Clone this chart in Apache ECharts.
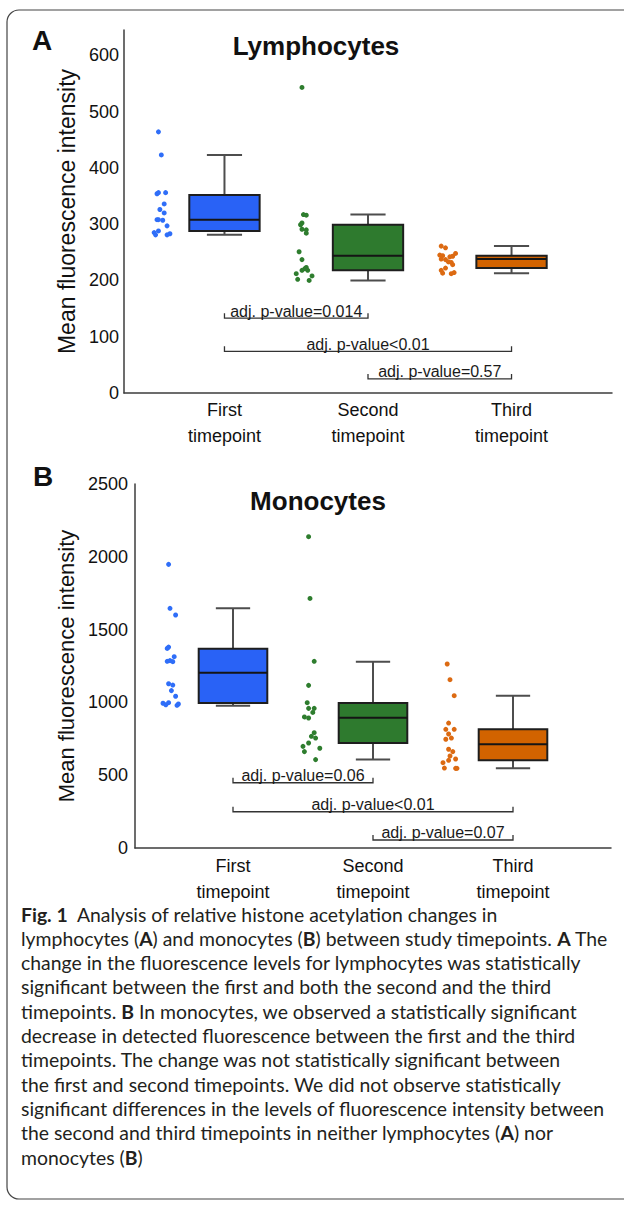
<!DOCTYPE html>
<html>
<head>
<meta charset="utf-8">
<title>Histone acetylation</title>
<script src="https://cdn.jsdelivr.net/npm/echarts@6/dist/echarts.min.js"></script>
<style>
  html, body { margin: 0; padding: 0; background: #fff; }
  #chart { width: 624px; height: 1207px; }
</style>
</head>
<body>
<div id="chart"></div>
<script>
const categories = ['First\ntimepoint', 'Second\ntimepoint', 'Third\ntimepoint'];

// box stats per timepoint: [lower whisker, q1, median, q3, upper whisker]
const lymphBoxes = [[281, 288, 308, 352, 423], [200, 218, 244, 299, 317], [213, 222, 238, 244, 261]];
const monoBoxes = [[977, 996, 1204, 1369, 1646], [607, 721, 895, 996, 1280], [547, 602, 712, 815, 1046]];

// individual points (values) and their horizontal spread
const lymphFirst = [464, 423, 354, 356, 356, 336, 326, 320, 308, 308, 307, 297, 288, 285, 281, 281, 283];
const lymphFirstJitter = [-0.46, -0.44, -0.47, -0.46, -0.41, -0.42, -0.45, -0.42, -0.47, -0.46, -0.43, -0.40, -0.46, -0.49, -0.48, -0.40, -0.38];
const lymphSecond = [543, 317, 316, 302, 299, 291, 290, 284, 251, 237, 223, 221, 218, 218, 212, 208, 202, 200];
const lymphSecondJitter = [-0.46, -0.45, -0.43, -0.46, -0.47, -0.46, -0.43, -0.43, -0.48, -0.46, -0.43, -0.44, -0.46, -0.42, -0.50, -0.39, -0.49, -0.41];
const lymphThird = [261, 258, 248, 245, 244, 238, 237, 242, 243, 233, 232, 228, 222, 218, 213, 212, 214];
const lymphThirdJitter = [-0.49, -0.46, -0.39, -0.50, -0.48, -0.49, -0.46, -0.43, -0.41, -0.44, -0.42, -0.41, -0.46, -0.49, -0.48, -0.42, -0.40];

const monoFirst = [1948, 1646, 1600, 1371, 1380, 1314, 1282, 1287, 1280, 1128, 1119, 1081, 1042, 994, 984, 998, 980, 989];
const monoFirstJitter = [-0.46, -0.45, -0.41, -0.47, -0.46, -0.42, -0.47, -0.45, -0.43, -0.46, -0.43, -0.44, -0.41, -0.50, -0.48, -0.46, -0.40, -0.39];
const monoSecond = [2138, 1714, 1282, 1117, 998, 959, 959, 931, 900, 893, 792, 767, 755, 721, 698, 685, 662, 607];
const monoSecondJitter = [-0.46, -0.45, -0.42, -0.46, -0.47, -0.46, -0.42, -0.43, -0.49, -0.46, -0.42, -0.44, -0.41, -0.46, -0.50, -0.38, -0.49, -0.41];
const monoThird = [1264, 1156, 1046, 858, 815, 815, 783, 755, 747, 678, 662, 632, 611, 602, 586, 549, 547, 547];
const monoThirdJitter = [-0.47, -0.45, -0.42, -0.46, -0.48, -0.42, -0.46, -0.44, -0.48, -0.46, -0.43, -0.45, -0.41, -0.46, -0.50, -0.49, -0.41, -0.40];

// significance brackets: which timepoints, at what height, with what text
const bracketPairs = [[1, 2], [1, 3], [2, 3]];
const lymphBracketLevels = [133, 74, 25];
const lymphPvalues = ['adj. p-value=0.014', 'adj. p-value<0.01', 'adj. p-value=0.57'];
const monoBracketLevels = [448, 249, 55];
const monoPvalues = ['adj. p-value=0.06', 'adj. p-value<0.01', 'adj. p-value=0.07'];

const captionLines = [
  '{b|Fig. 1}  Analysis of relative histone acetylation changes in',
  'lymphocytes ({b|A}) and monocytes ({b|B}) between study timepoints. {b|A} The',
  'change in the fluorescence levels for lymphocytes was statistically',
  'significant between the first and both the second and the third',
  'timepoints. {b|B} In monocytes, we observed a statistically significant',
  'decrease in detected fluorescence between the first and the third',
  'timepoints. The change was not statistically significant between',
  'the first and second timepoints. We did not observe statistically',
  'significant differences in the levels of fluorescence intensity between',
  'the second and third timepoints in neither lymphocytes ({b|A}) nor',
  'monocytes ({b|B})'
];

const boxColors = ['#2962f6', '#2e7a2e', '#d26300'];
const dotColors = ['#2f6ef8', '#2e7d2e', '#dc6a12'];
const FONT = "'Liberation Sans', Arial, sans-serif";
const CAPTION_FONT = 'Lato';

// fit caption size to the width of the widest plain line
const ctx = document.createElement('canvas').getContext('2d');
ctx.font = '100px ' + CAPTION_FONT;
const captionSize = Math.round(584 / ctx.measureText(captionLines[8]).width * 1000) / 10;

const axisColor = '#3c3c3c';

function xAxisFor(gridIndex, margin) {
  return {
    type: 'value', gridIndex: gridIndex, min: 0.3, max: 3.7,
    splitLine: { show: false }, axisTick: { show: false },
    axisLine: { show: true, onZero: false, lineStyle: { color: axisColor, width: 1.5 } },
    axisLabel: {
      customValues: [1, 2, 3],
      formatter: v => categories[Math.round(v) - 1],
      fontSize: 18, lineHeight: 26, color: '#111', fontFamily: FONT, margin: margin
    }
  };
}

function yAxisFor(gridIndex, max, interval, margin, nameSize, nameGap) {
  return {
    type: 'value', gridIndex: gridIndex, min: 0, max: max, interval: interval,
    splitLine: { show: false }, axisTick: { show: false },
    axisLine: { show: true, onZero: false, lineStyle: { color: axisColor, width: 1.5 } },
    axisLabel: {
      fontSize: 18, color: '#111', fontFamily: FONT, margin: margin,
      formatter: v => (v % interval === 0 ? String(v) : '')
    },
    name: 'Mean fluorescence intensity', nameLocation: 'middle', nameRotate: 90, nameGap: nameGap,
    nameTextStyle: { fontSize: nameSize, color: '#111', fontFamily: FONT }
  };
}

function boxSeries(axisIndex, stats) {
  return {
    type: 'custom', xAxisIndex: axisIndex, yAxisIndex: axisIndex, silent: true,
    data: stats.map((s, i) => [i + 1].concat(s)),
    encode: { x: 0, y: [1, 2, 3, 4, 5] },
    renderItem: function (params, api) {
      const x = api.value(0);
      const half = api.size([0.49, 0])[0] / 2;
      const cap = api.size([0.245, 0])[0] / 2;
      const lo = api.coord([x, api.value(1)]);
      const q1 = api.coord([x, api.value(2)]);
      const md = api.coord([x, api.value(3)]);
      const q3 = api.coord([x, api.value(4)]);
      const hi = api.coord([x, api.value(5)]);
      const cx = lo[0];
      const whisker = { stroke: '#4d4d4d', lineWidth: 2 };
      return {
        type: 'group',
        children: [
          { type: 'line', shape: { x1: cx, y1: hi[1], x2: cx, y2: q3[1] }, style: whisker },
          { type: 'line', shape: { x1: cx - cap, y1: hi[1], x2: cx + cap, y2: hi[1] }, style: whisker },
          { type: 'line', shape: { x1: cx, y1: q1[1], x2: cx, y2: lo[1] }, style: whisker },
          { type: 'line', shape: { x1: cx - cap, y1: lo[1], x2: cx + cap, y2: lo[1] }, style: whisker },
          { type: 'rect', shape: { x: cx - half, y: q3[1], width: half * 2, height: q1[1] - q3[1] },
            style: { fill: boxColors[params.dataIndex], stroke: '#1e1e1e', lineWidth: 2 } },
          { type: 'line', shape: { x1: cx - half, y1: md[1], x2: cx + half, y2: md[1] },
            style: { stroke: '#151515', lineWidth: 2 } }
        ]
      };
    }
  };
}

function dotSeries(axisIndex, pos, values, jitter) {
  return {
    type: 'scatter', xAxisIndex: axisIndex, yAxisIndex: axisIndex, silent: true,
    symbolSize: 5, itemStyle: { color: dotColors[pos - 1], opacity: 1 },
    data: values.map((v, i) => [pos + jitter[i], v])
  };
}

function bracketSeries(axisIndex, levels, labels) {
  return {
    type: 'custom', xAxisIndex: axisIndex, yAxisIndex: axisIndex, silent: true,
    data: bracketPairs.map((p, i) => [p[0], p[1], levels[i]]),
    encode: { x: [0, 1], y: 2 },
    renderItem: function (params, api) {
      const a = api.coord([api.value(0), api.value(2)]);
      const b = api.coord([api.value(1), api.value(2)]);
      const tick = 5;
      return {
        type: 'group',
        children: [
          { type: 'polyline',
            shape: { points: [[a[0], a[1] - tick], [a[0], a[1]], [b[0], b[1]], [b[0], b[1] - tick]] },
            style: { stroke: '#333', lineWidth: 1.3, fill: null } },
          { type: 'text',
            style: { text: labels[params.dataIndex], x: (a[0] + b[0]) / 2, y: a[1] - 7,
              align: 'center', verticalAlign: 'middle', fontSize: 16, fontFamily: FONT, fill: '#1a1a1a' } }
        ]
      };
    }
  };
}

const graphics = [
  { type: 'rect', shape: { x: 7, y: 10, width: 660, height: 1189, r: 12 },
    style: { fill: 'none', stroke: '#444', lineWidth: 1.2 } },
  { type: 'text', style: { text: 'A', x: 32, y: 40, verticalAlign: 'middle', fontSize: 28, fontWeight: 'bold', fontFamily: FONT, fill: '#111' } },
  { type: 'text', style: { text: 'B', x: 33, y: 476, verticalAlign: 'middle', fontSize: 28, fontWeight: 'bold', fontFamily: FONT, fill: '#111' } },
  { type: 'text', style: { text: 'Lymphocytes', x: 316, y: 46, align: 'center', verticalAlign: 'middle', fontSize: 26, fontWeight: 'bold', fontFamily: FONT, fill: '#111' } },
  { type: 'text', style: { text: 'Monocytes', x: 318, y: 501, align: 'center', verticalAlign: 'middle', fontSize: 26, fontWeight: 'bold', fontFamily: FONT, fill: '#111' } }
];

captionLines.forEach((line, i) => {
  graphics.push({
    type: 'text',
    style: {
      text: line, x: 21, y: 914 + i * 24.3, verticalAlign: 'middle',
      fontSize: captionSize, fontFamily: CAPTION_FONT, fill: '#231f20',
      rich: {
        b: { fontSize: captionSize, fontFamily: CAPTION_FONT, fontWeight: 'bold', fill: '#231f20' }
      }
    }
  });
});

const chart = echarts.init(document.getElementById('chart'), null, { renderer: 'svg' });
chart.setOption({
  animation: false,
  backgroundColor: '#fff',
  grid: [
    { left: 124, top: 30, width: 488, height: 363 },
    { left: 135, top: 484, width: 476, height: 364 }
  ],
  xAxis: [xAxisFor(0, 4), xAxisFor(1, 5)],
  yAxis: [yAxisFor(0, 645, 100, 5, 23, 38), yAxisFor(1, 2500, 500, 7, 22, 50)],
  series: [
    boxSeries(0, lymphBoxes),
    dotSeries(0, 1, lymphFirst, lymphFirstJitter),
    dotSeries(0, 2, lymphSecond, lymphSecondJitter),
    dotSeries(0, 3, lymphThird, lymphThirdJitter),
    bracketSeries(0, lymphBracketLevels, lymphPvalues),
    boxSeries(1, monoBoxes),
    dotSeries(1, 1, monoFirst, monoFirstJitter),
    dotSeries(1, 2, monoSecond, monoSecondJitter),
    dotSeries(1, 3, monoThird, monoThirdJitter),
    bracketSeries(1, monoBracketLevels, monoPvalues)
  ],
  graphic: { elements: graphics }
});
</script>
</body>
</html>
